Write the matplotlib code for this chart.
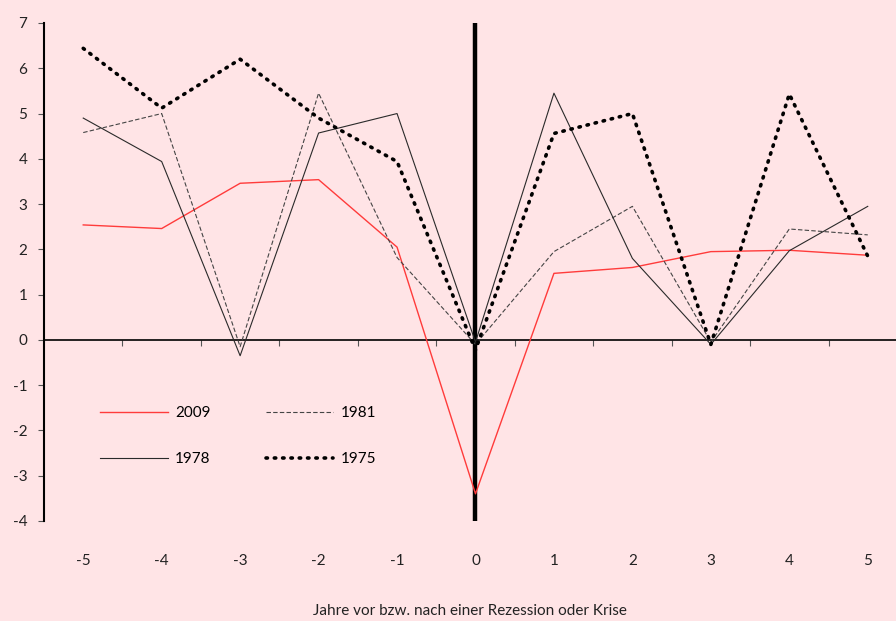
import matplotlib
matplotlib.use("Agg")
import matplotlib.pyplot as plt

plt.rcParams['font.family'] = ['Lato', 'DejaVu Sans']
plt.rcParams['axes.unicode_minus'] = False

# years relative to recession / crisis
jahre = [-5, -4, -3, -2, -1, 0, 1, 2, 3, 4, 5]
s2009 = [2.54, 2.46, 3.46, 3.54, 2.05, -3.40, 1.47, 1.60, 1.95, 1.98, 1.87]
s1981 = [4.58, 5.00, -0.15, 5.45, 1.82, -0.10, 1.95, 2.95, -0.05, 2.45, 2.32]
s1978 = [4.90, 3.94, -0.35, 4.57, 5.00, -0.05, 5.45, 1.80, -0.10, 1.97, 2.95]
s1975 = [6.44, 5.12, 6.20, 4.90, 3.94, -0.22, 4.56, 5.00, -0.10, 5.43, 1.85]

bg = '#FFE4E6'
fig = plt.figure(figsize=(8.96, 6.21), dpi=100, facecolor=bg)
ax = fig.add_axes([44 / 896, 1 - 521 / 621, 1 - 44 / 896, (521 - 23) / 621])
ax.set_facecolor(bg)

l09, = ax.plot(jahre, s2009, color='#FF3B3B', lw=1.0, label='2009')
l81, = ax.plot(jahre, s1981, color='#444444', lw=0.8, dashes=(4, 2), label='1981')
l78, = ax.plot(jahre, s1978, color='#2a2a2a', lw=0.8, label='1978')
l75, = ax.plot(jahre, s1975, color='black', lw=2.6, linestyle=(0, (0.4, 1.9)),
               dash_capstyle='round', label='1975')

ax.axvline(0, color='black', lw=3.2, zorder=1)

ax.set_xlim(-5.5, 5.36)
ax.set_ylim(-4, 7)

# category labels at the bottom
ax.set_xticks(jahre)
ax.set_xticklabels([str(j) for j in jahre])
ax.tick_params(axis='x', length=0, pad=24, labelsize=11, labelcolor='#222222')
ax.set_xlabel('Jahre vor bzw. nach einer Rezession oder Krise', fontsize=11,
              color='#222222', labelpad=26)

# axis line at zero with ticks between categories
sec = ax.secondary_xaxis(4 / 11)
sec.set_xticks([j + 0.5 for j in jahre[:-1]])
sec.set_xticklabels([])
sec.tick_params(axis='x', length=4, width=0.8, color='#555555')
sec.spines['bottom'].set_linewidth(1.2)

ax.set_yticks(range(-4, 8))
ax.tick_params(axis='y', length=4, width=0.8, color='#555555', labelsize=11,
               labelcolor='#222222', pad=8)
for s in ['top', 'right', 'bottom']:
    ax.spines[s].set_visible(False)
ax.spines['left'].set_linewidth(1.5)

ax.legend([l09, l78, l81, l75], ['2009', '1978', '1981', '1975'], ncol=2,
          frameon=False, fontsize=11, handlelength=4.4, handletextpad=0.5,
          columnspacing=3.6, labelspacing=2.1, loc='upper left',
          bbox_to_anchor=(0.05, 0.258))

fig.savefig('out.png', dpi=100, facecolor=bg)
